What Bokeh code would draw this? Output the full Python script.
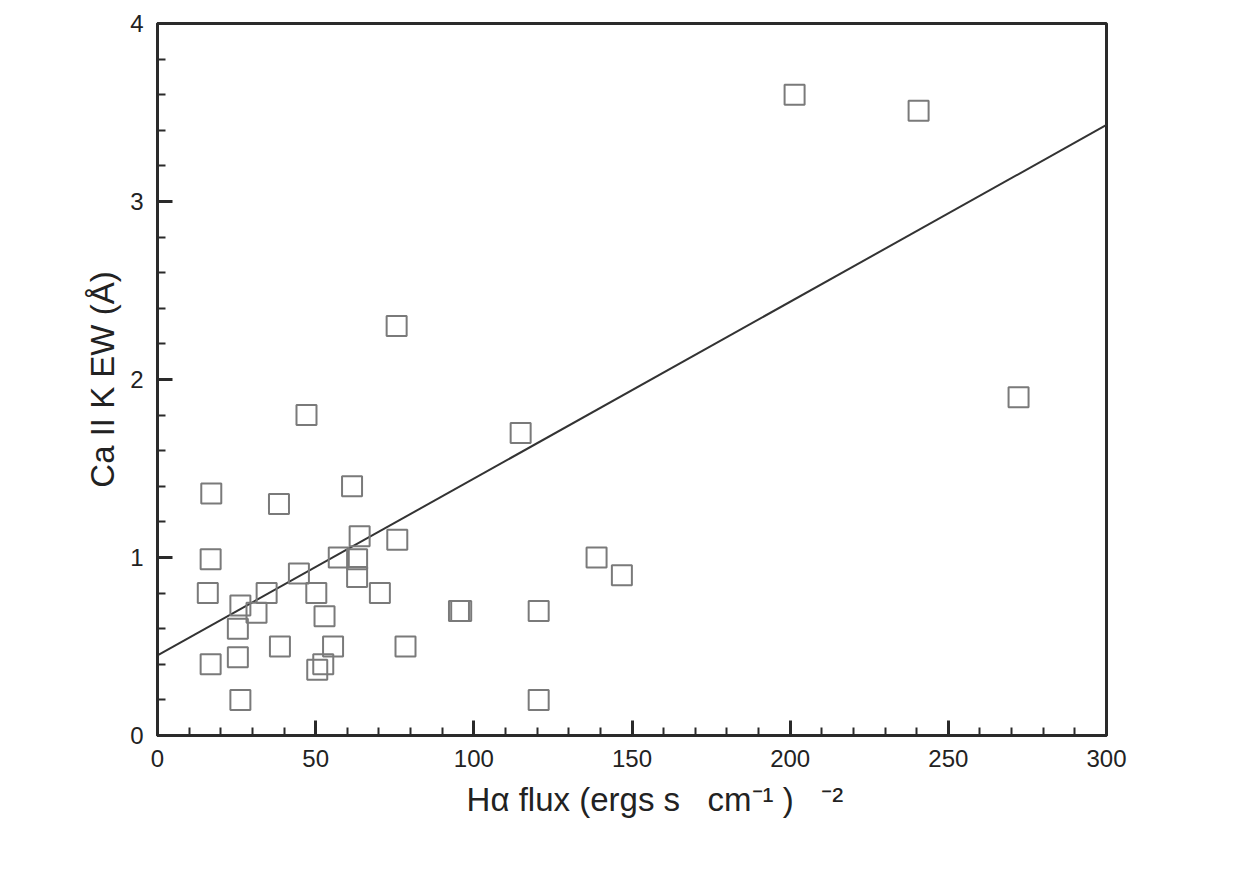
from bokeh.plotting import figure
from bokeh.models import SingleIntervalTicker, ColumnDataSource
from bokeh.embed import file_html
from bokeh.resources import INLINE

# Data
ha_flux = [201.4, 240.6, 272.2, 75.6, 47.1, 114.8, 17.0, 38.4, 61.5,
           63.9, 75.8, 57.3, 63.1, 16.8, 44.7, 63.1, 138.8, 146.8,
           15.9, 34.5, 50.2, 70.3, 26.2, 31.3, 52.8, 25.4, 95.3, 96.0,
           120.5, 16.8, 25.4, 38.7, 55.5, 78.4, 50.5, 52.4, 26.2, 120.5]
ca_ew = [3.60, 3.51, 1.90, 2.30, 1.80, 1.70, 1.36, 1.30, 1.40,
         1.12, 1.10, 1.00, 0.99, 0.99, 0.91, 0.89, 1.00, 0.90,
         0.80, 0.80, 0.80, 0.80, 0.73, 0.69, 0.67, 0.60, 0.70, 0.70,
         0.70, 0.40, 0.44, 0.50, 0.50, 0.50, 0.37, 0.40, 0.20, 0.20]
fit_x = [0, 300]
fit_y = [0.45, 3.43]

x_ticks_major = 50
y_ticks_major = 1

FONT = "Liberation Sans"
NB = "\u00a0"

p = figure(width=1223, height=864, x_range=(0, 300), y_range=(0, 4),
           output_backend="svg", toolbar_location=None,
           min_border_left=157, min_border_right=117,
           min_border_top=23, min_border_bottom=129)
p.background_fill_color = "white"
p.border_fill_color = "white"
p.xgrid.visible = False
p.ygrid.visible = False
p.outline_line_color = "#2a2a2a"
p.outline_line_width = 3

p.xaxis.ticker = SingleIntervalTicker(interval=x_ticks_major, num_minor_ticks=5)
p.yaxis.ticker = SingleIntervalTicker(interval=y_ticks_major, num_minor_ticks=5)

for ax in (p.xaxis[0], p.yaxis[0]):
    ax.axis_line_color = "#2a2a2a"
    ax.axis_line_width = 3
    ax.major_tick_in = 15
    ax.major_tick_out = 0
    ax.minor_tick_in = 8
    ax.minor_tick_out = 0
    ax.major_tick_line_color = "#2a2a2a"
    ax.major_tick_line_width = 3
    ax.minor_tick_line_color = "#2a2a2a"
    ax.minor_tick_line_width = 2
    ax.major_label_text_font = FONT
    ax.major_label_text_font_size = "24px"
    ax.major_label_text_color = "#222222"
    ax.major_label_standoff = 14
    ax.axis_label_text_font = FONT
    ax.axis_label_text_font_size = "33px"
    ax.axis_label_text_font_style = "normal"
    ax.axis_label_text_color = "#222222"

p.xaxis.axis_label = (NB * 5 + "H\u03b1 flux (ergs s" + NB * 3 +
                      "cm\u207b\u00b9 )" + NB * 3 + "\u207b\u00b2")
p.xaxis.axis_label_standoff = 11
p.yaxis.axis_label = "Ca II K EW (\u00c5)"
p.yaxis.axis_label_standoff = 6

p.line(fit_x, fit_y, line_color="#333333", line_width=2)

src = ColumnDataSource(dict(x=ha_flux, y=ca_ew))
p.scatter("x", "y", source=src, marker="square", size=20,
          fill_color=None, line_color="#7a7a7a", line_width=2)

open("out.html", "w").write(file_html(p, INLINE))
